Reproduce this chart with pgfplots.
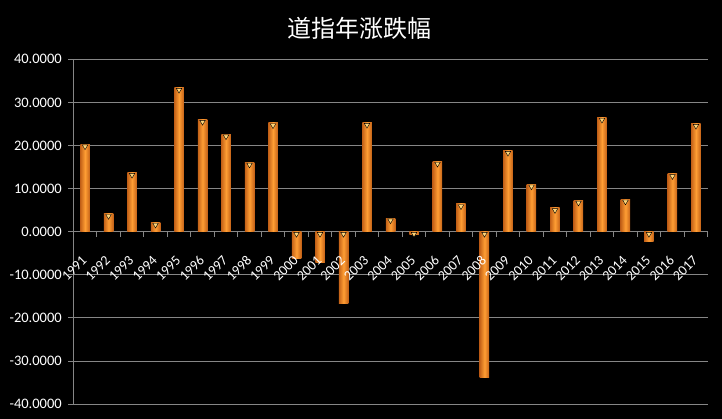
\documentclass[border=0pt]{standalone}
\usepackage{pgfplots}
\usepackage{pgfplotstable}
\pgfplotsset{compat=1.18}
\usepackage{fontspec}
\setmainfont{Carlito}
\newfontfamily\cjk{Noto Sans CJK SC}
\definecolor{gridgray}{RGB}{134,134,134}
\definecolor{barmid}{RGB}{255,158,52}
\definecolor{baredge}{RGB}{196,98,24}
\definecolor{capyellow}{RGB}{255,214,120}

% Dow Jones yearly change (%)
\pgfplotstableread{
idx year val
0  1991 20.32
1  1992 4.17
2  1993 13.72
3  1994 2.14
4  1995 33.45
5  1996 26.01
6  1997 22.64
7  1998 16.10
8  1999 25.22
9  2000 -6.17
10 2001 -7.10
11 2002 -16.76
12 2003 25.32
13 2004 3.15
14 2005 -0.61
15 2006 16.29
16 2007 6.43
17 2008 -33.84
18 2009 18.82
19 2010 11.02
20 2011 5.53
21 2012 7.26
22 2013 26.50
23 2014 7.52
24 2015 -2.23
25 2016 13.42
26 2017 25.08
}\dowdata

\pgfplotsset{
	dowframe/.style={
		at={(73.3pt,15pt)}, anchor=south west,
		scale only axis,
		width=634.4pt, height=344.7pt,
		xmin=-0.5, xmax=26.5,
		ymin=-40, ymax=40,
		axis x line=middle,
		axis y line=left,
		every inner x axis line/.append style={-},
		every outer y axis line/.append style={-},
		axis line style={-, draw=gridgray, line width=0.8pt},
		xtick={0,...,26},
		ytick={-40,-30,...,40},
		tick align=outside,
		major tick length=5pt,
		minor tick length=5pt,
		clip=false,
	},
}

\begin{document}
\begin{tikzpicture}
\useasboundingbox[fill=black] (0pt,0pt) rectangle (722pt,419pt);
% grid, y axis, bars
\begin{axis}[
	dowframe,
	title={\cjk 道指年涨跌幅},
	title style={at={(0.5,1)}, anchor=south, xshift=-31.5pt, yshift=10pt,
		font=\fontsize{24}{26}\selectfont, text=white},
	yticklabel style={
		/pgf/number format/fixed,
		/pgf/number format/precision=4,
		/pgf/number format/fixed zerofill,
		/pgf/number format/assume math mode=true,
		font=\fontsize{14.5}{16}\selectfont, text=white, xshift=-3pt
	},
	ymajorgrids=true,
	grid style={gridgray, line width=0.8pt},
	xticklabels={},
	major x tick style={draw=none},
	minor xtick={-0.5,0.5,...,26.5},
	minor x tick style={draw=gridgray, line width=0.8pt},
	y tick style={draw=gridgray, line width=0.8pt},
	]
	\pgfplotsinvokeforeach{0,...,26}{
		\addplot[ybar, bar width=9.5pt, bar shift=0pt, draw=none,
			left color=baredge, right color=baredge, middle color=barmid,
			x filter/.expression={abs(x-#1)<0.1 ? x : nan}]
		table[x=idx, y=val] {\dowdata};
	}
	% light cap at the top of each bar
	\addplot[only marks, mark=triangle*, mark size=3.2pt,
		mark options={yshift=-2.4pt, rotate=180, fill=capyellow, draw=none}]
	table[x=idx, y expr={max(\thisrow{val},0)}] {\dowdata};
\end{axis}
% year labels on top of the bars
\begin{axis}[
	dowframe,
	axis line style={draw=none},
	yticklabels={},
	y tick style={draw=none},
	major x tick style={draw=none},
	xticklabels from table={\dowdata}{year},
	xticklabel style={yshift=-18pt, xshift=-4pt, rotate=45,
		anchor=north east, inner sep=0pt,
		font=\fontsize{14}{16}\selectfont, text=white},
	]
\end{axis}
\end{tikzpicture}
\end{document}
